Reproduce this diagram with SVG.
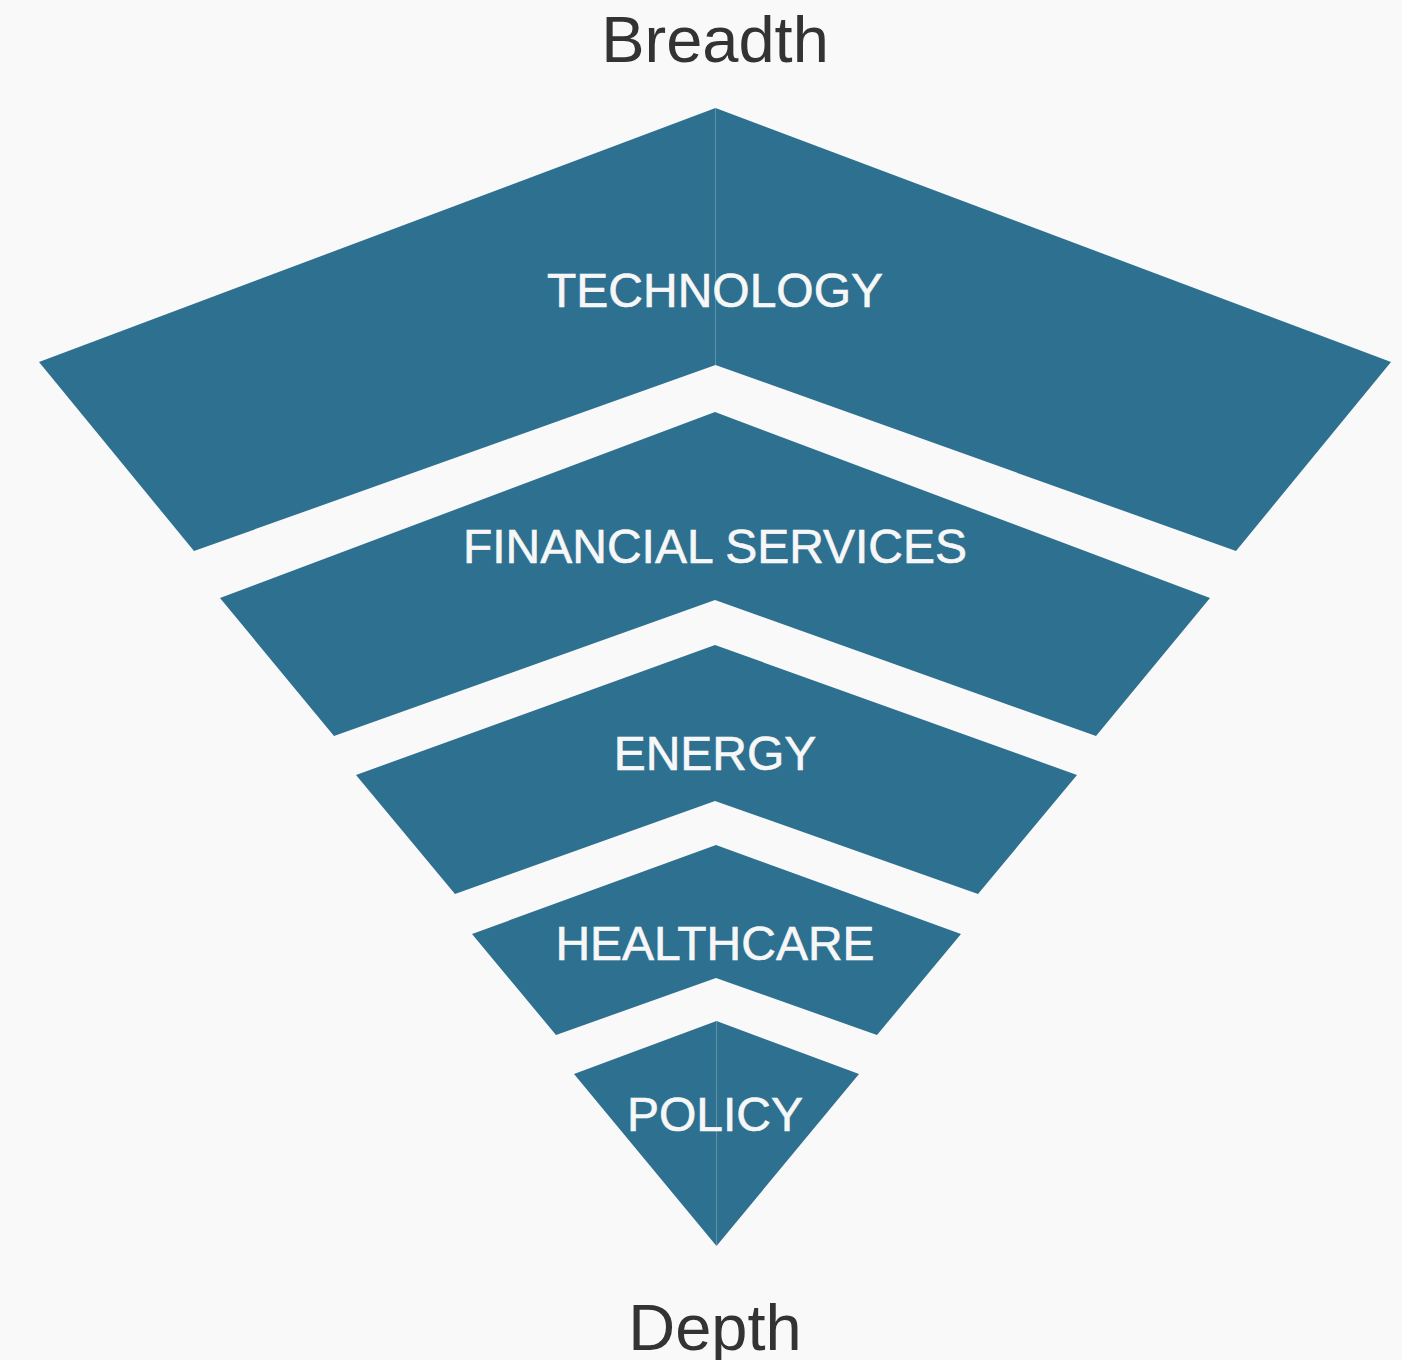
<svg xmlns="http://www.w3.org/2000/svg" width="1402" height="1360" viewBox="0 0 1402 1360">
<style>
.bg{fill:#f9f9f9}
.seg{fill:#2e7090}
.lbl{font-family:"Liberation Sans",Arial,sans-serif;font-size:48px;fill:#f7f7f7;text-anchor:middle;stroke:#f7f7f7;stroke-width:0.6}
.axis{font-family:"Liberation Sans",Arial,sans-serif;font-size:65px;fill:#333333;text-anchor:middle}
</style>
<rect class="bg" x="0" y="0" width="1402" height="1360"/>
<text class="axis" x="715" y="62">Breadth</text>
<g id="technology">
<polygon class="seg" points="715.5,108 39,362 194,551 715.5,365"/>
<polygon class="seg" points="715.5,108 1391,362 1236,551 715.5,365"/>
<text class="lbl" x="715" y="307">TECHNOLOGY</text>
</g>
<g id="financial-services">
<polygon class="seg" points="715,412 1210,598 1096,736 715,600 334,736 220,598"/>
<text class="lbl" x="715" y="563">FINANCIAL SERVICES</text>
</g>
<g id="energy">
<polygon class="seg" points="715,645 1077,775 978,894 715,801 455,894 356,775"/>
<text class="lbl" x="715" y="770">ENERGY</text>
</g>
<g id="healthcare">
<polygon class="seg" points="716,845 961,934 877,1035 716,978 556,1035 472,934"/>
<text class="lbl" x="715" y="960">HEALTHCARE</text>
</g>
<g id="policy">
<polygon class="seg" points="716.5,1021 574,1074 716.5,1246"/>
<polygon class="seg" points="716.5,1021 859,1074 716.5,1246"/>
<text class="lbl" x="715" y="1131">POLICY</text>
</g>
<g id="connectors"></g>
<text class="axis" x="715" y="1350">Depth</text>
</svg>
